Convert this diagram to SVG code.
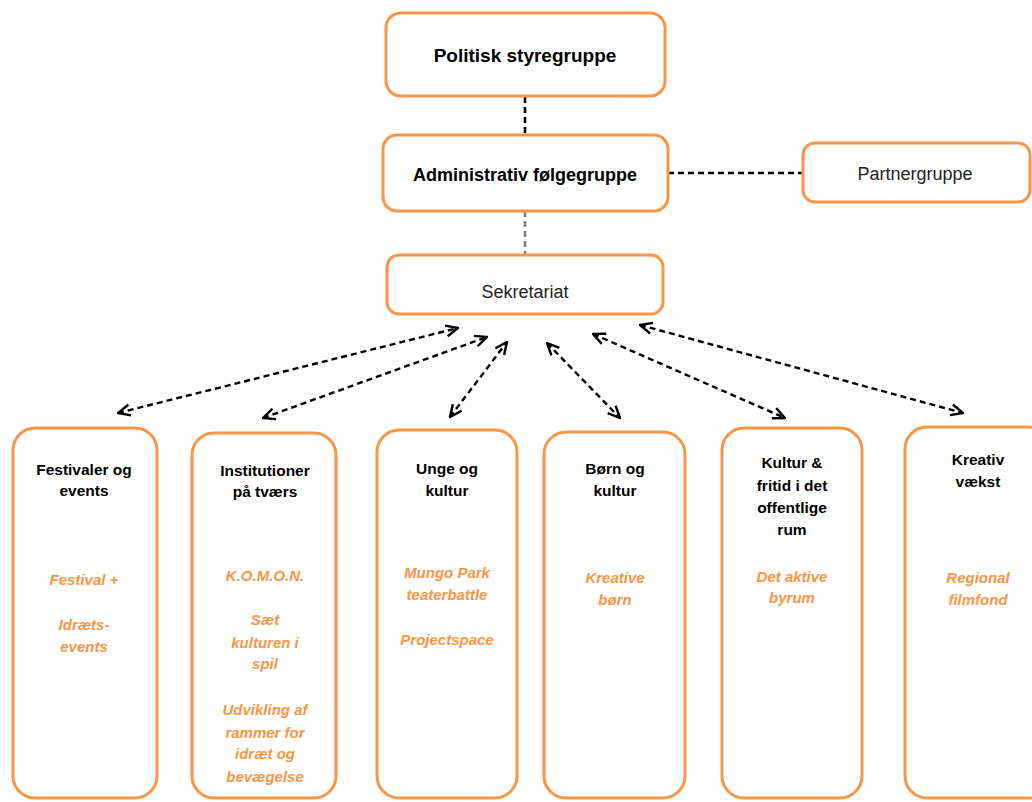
<svg xmlns="http://www.w3.org/2000/svg" width="1032" height="802" viewBox="0 0 1032 802">
<style>
.box{fill:#fff;stroke:#F79646;stroke-width:3}
.h{font-family:"Liberation Sans",Arial,sans-serif;font-weight:bold;fill:#000;text-anchor:middle}
.r{font-family:"Liberation Sans",Arial,sans-serif;fill:#222;text-anchor:middle;font-size:18px}
.o{font-family:"Liberation Sans",Arial,sans-serif;font-weight:bold;font-style:italic;fill:#F79646;text-anchor:middle;font-size:15px}
.b{font-size:15.5px}
.dl{fill:none;stroke:#000;stroke-width:2.6;stroke-dasharray:6 4}
.ar{fill:none;stroke:#000;stroke-width:2.4;stroke-dasharray:6 4;marker-start:url(#ah);marker-end:url(#ah)}
</style>
<defs>
<marker id="ah" viewBox="0 0 14 14" refX="13" refY="7" markerWidth="14" markerHeight="14" markerUnits="userSpaceOnUse" orient="auto-start-reverse">
<path d="M1,1.5 L13,7 L1,12.5" fill="none" stroke="#000" stroke-width="2.4"/>
</marker>
</defs>
<rect width="1032" height="802" fill="#fff"/>
<g id="connectors">
<line class="dl" x1="525" y1="97" x2="525" y2="135"/>
<line class="dl" x1="525" y1="211" x2="525" y2="255" style="stroke:#808080"/>
<line class="dl" x1="668" y1="173" x2="803" y2="173"/>
<line class="ar" x1="118" y1="413" x2="458" y2="328"/>
<line class="ar" x1="263" y1="418" x2="487" y2="337"/>
<line class="ar" x1="450" y1="417" x2="507" y2="342"/>
<line class="ar" x1="547" y1="343" x2="620" y2="418"/>
<line class="ar" x1="593" y1="334" x2="785" y2="418"/>
<line class="ar" x1="640" y1="325" x2="963" y2="413"/>
</g>
<g id="politisk">
<rect class="box" x="386" y="13" width="279" height="83" rx="15"/>
<text class="h" x="525" y="62" font-size="19">Politisk styregruppe</text>
</g>
<g id="administrativ">
<rect class="box" x="383" y="135" width="285" height="76" rx="14"/>
<text class="h" x="525" y="181" font-size="18">Administrativ følgegruppe</text>
</g>
<g id="partner">
<rect class="box" x="803" y="143" width="227" height="59" rx="12"/>
<text class="r" x="915" y="180">Partnergruppe</text>
</g>
<g id="sekretariat">
<rect class="box" x="387" y="255" width="276" height="59" rx="12"/>
<text class="r" x="525" y="298">Sekretariat</text>
</g>
<g id="festivaler">
<rect class="box" x="13" y="428" width="144" height="370" rx="22"/>
<text class="h b" x="84" y="475">Festivaler og</text>
<text class="h b" x="84" y="496">events</text>
<text class="o" x="84" y="585">Festival +</text>
<text class="o" x="84" y="630">Idræts-</text>
<text class="o" x="84" y="652">events</text>
</g>
<g id="institutioner">
<rect class="box" x="192" y="433" width="144" height="365" rx="22"/>
<text class="h b" x="265" y="476">Institutioner</text>
<text class="h b" x="265" y="497">på tværs</text>
<text class="o" x="265" y="581">K.O.M.O.N.</text>
<text class="o" x="265" y="625">Sæt</text>
<text class="o" x="265" y="648">kulturen i</text>
<text class="o" x="265" y="669">spil</text>
<text class="o" x="265" y="715">Udvikling af</text>
<text class="o" x="265" y="738">rammer for</text>
<text class="o" x="265" y="759">idræt og</text>
<text class="o" x="265" y="782">bevægelse</text>
</g>
<g id="unge">
<rect class="box" x="377" y="430" width="140" height="368" rx="22"/>
<text class="h b" x="447" y="474">Unge og</text>
<text class="h b" x="447" y="496">kultur</text>
<text class="o" x="447" y="578">Mungo Park</text>
<text class="o" x="447" y="600">teaterbattle</text>
<text class="o" x="447" y="645">Projectspace</text>
</g>
<g id="boern">
<rect class="box" x="544" y="432" width="141" height="366" rx="22"/>
<text class="h b" x="615" y="474">Børn og</text>
<text class="h b" x="615" y="496">kultur</text>
<text class="o" x="615" y="583">Kreative</text>
<text class="o" x="615" y="605">børn</text>
</g>
<g id="kultur-fritid">
<rect class="box" x="722" y="428" width="140" height="370" rx="22"/>
<text class="h b" x="792" y="468">Kultur &amp;</text>
<text class="h b" x="792" y="491">fritid i det</text>
<text class="h b" x="792" y="513">offentlige</text>
<text class="h b" x="792" y="535">rum</text>
<text class="o" x="792" y="582">Det aktive</text>
<text class="o" x="792" y="603">byrum</text>
</g>
<g id="kreativ">
<rect class="box" x="905" y="427" width="145" height="371" rx="22"/>
<text class="h b" x="978" y="465">Kreativ</text>
<text class="h b" x="978" y="487">vækst</text>
<text class="o" x="978" y="583">Regional</text>
<text class="o" x="978" y="605">filmfond</text>
</g>
</svg>
